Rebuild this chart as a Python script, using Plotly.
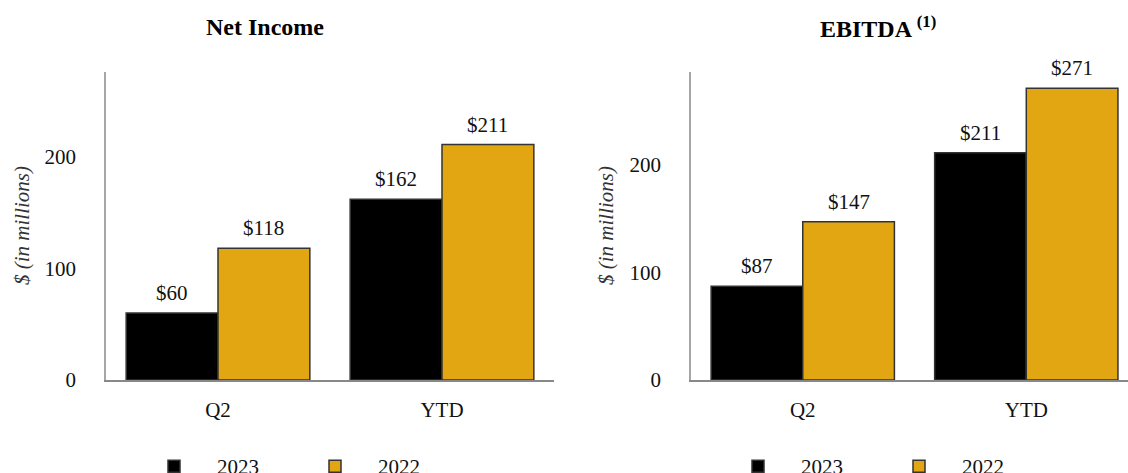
import plotly.graph_objects as go

categories = ["Q2", "YTD"]
series_names = ["2023", "2022"]
net_income_2023 = [60, 162]
net_income_2022 = [118, 211]
ebitda_2023 = [87, 211]
ebitda_2022 = [147, 271]
y_ticks = [0, 100, 200]
titles = ["Net Income", "EBITDA <sup>(1)</sup>"]
y_title = "$ (in millions)"

W, H = 1128, 473
FONT = "Liberation Serif, Times New Roman, serif"
BLACK = "#000000"
GOLD = "#E2A613"
OUTLINE = "#333333"
BARGAP = 0.18

def px_x(p):
    return p / W

def px_y(p):
    return (H - p) / H

fig = go.Figure()

panels = [
    dict(xa="x", ya="y", vals=[net_income_2023, net_income_2022], legend="legend"),
    dict(xa="x2", ya="y2", vals=[ebitda_2023, ebitda_2022], legend="legend2"),
]
colors = [BLACK, GOLD]

for p in panels:
    for s, (name, vals) in enumerate(zip(series_names, p["vals"])):
        fig.add_trace(go.Bar(
            x=categories, y=vals, name=name,
            xaxis=p["xa"], yaxis=p["ya"], legend=p["legend"],
            marker=dict(color=colors[s], line=dict(color=OUTLINE, width=1.5)),
            hoverinfo="skip",
        ))

annotations = []
w = 1 - BARGAP
offsets = [-w / 4, w / 4]
for p in panels:
    for s, vals in enumerate(p["vals"]):
        for i, v in enumerate(vals):
            annotations.append(dict(
                x=i + offsets[s], y=v, xref=p["xa"], yref=p["ya"],
                text=f"${v}", showarrow=False, yanchor="middle", yshift=20,
                font=dict(family=FONT, size=21, color="#111111"),
            ))

# panel titles
annotations.append(dict(x=px_x(265), y=px_y(27), xref="paper", yref="paper",
                        text="<b>%s</b>" % titles[0], showarrow=False,
                        xanchor="center", yanchor="middle",
                        font=dict(family=FONT, size=24, color="#000000")))
annotations.append(dict(x=px_x(878), y=px_y(27), xref="paper", yref="paper",
                        text="<b>%s</b>" % titles[1], showarrow=False,
                        xanchor="center", yanchor="middle",
                        font=dict(family=FONT, size=24, color="#000000")))
# y axis titles
for xc in (22, 606):
    annotations.append(dict(x=px_x(xc), y=px_y(226), xref="paper", yref="paper",
                            text="<i>%s</i>" % y_title, showarrow=False, textangle=-90,
                            xanchor="center", yanchor="middle",
                            font=dict(family=FONT, size=21, color="#333333")))

axis_common_x = dict(
    type="category", showline=True, linecolor="#888888", linewidth=2,
    showgrid=False, zeroline=False, ticks="", ticklabelstandoff=10,
    tickfont=dict(family=FONT, size=21, color="#111111"),
)
axis_common_y = dict(
    showline=True, linecolor="#a6a6a6", linewidth=1.5, showgrid=False,
    zeroline=False, ticks="", tickvals=y_ticks, ticklabelstandoff=24,
    tickfont=dict(family=FONT, size=21, color="#111111"),
)

y_dom = [px_y(380), px_y(72)]

legend_common = dict(orientation="h", xanchor="left", yanchor="top",
                     font=dict(family=FONT, size=21, color="#111111"),
                     entrywidth=70, itemwidth=76, bgcolor="rgba(0,0,0,0)")

fig.update_layout(
    width=W, height=H,
    margin=dict(l=0, r=0, t=0, b=0, autoexpand=False),
    paper_bgcolor="white", plot_bgcolor="white",
    barmode="group", bargap=BARGAP, bargroupgap=0,
    xaxis=dict(domain=[px_x(106), px_x(554)], range=[-0.5, 1.5], anchor="y", **axis_common_x),
    xaxis2=dict(domain=[px_x(691), 1.0], range=[-0.5, 1.455], anchor="y2", **axis_common_x),
    yaxis=dict(domain=y_dom, range=[0, 276], anchor="x", **axis_common_y),
    yaxis2=dict(domain=y_dom, range=[0, 286], anchor="x2", **axis_common_y),
    legend=dict(x=px_x(131), y=px_y(446), **legend_common),
    legend2=dict(x=px_x(715), y=px_y(446), **legend_common),
    annotations=annotations,
    showlegend=True,
)

fig.write_html("out.html")
